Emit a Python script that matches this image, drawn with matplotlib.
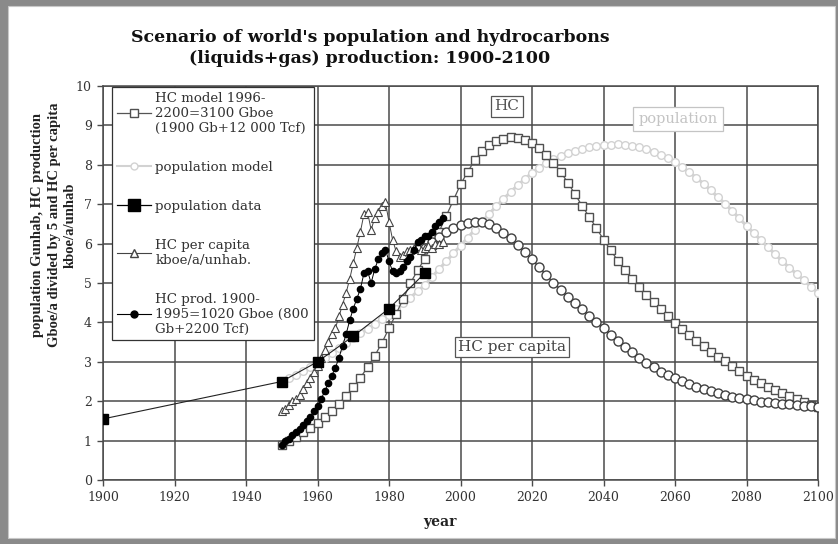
import matplotlib.pyplot as plt
from matplotlib.patches import Rectangle
from matplotlib.lines import Line2D

# ---- data ----
model_years = list(range(1950, 2101, 2))

hc_model = [0.90, 1.00, 1.10, 1.21, 1.33, 1.45, 1.60, 1.76, 1.94, 2.14,
            2.35, 2.60, 2.86, 3.15, 3.48, 3.85, 4.22, 4.60, 5.00, 5.32,
            5.62, 5.96, 6.30, 6.70, 7.10, 7.50, 7.82, 8.12, 8.35, 8.50,
            8.60, 8.66, 8.70, 8.69, 8.63, 8.55, 8.42, 8.24, 8.05, 7.82,
            7.55, 7.26, 6.96, 6.68, 6.40, 6.10, 5.83, 5.57, 5.33, 5.11,
            4.90, 4.70, 4.51, 4.33, 4.15, 3.98, 3.83, 3.68, 3.53, 3.39,
            3.25, 3.13, 3.01, 2.89, 2.77, 2.65, 2.55, 2.45, 2.36, 2.28,
            2.20, 2.12, 2.05, 1.98, 1.91, 1.85]

pop_model = [2.50, 2.58, 2.67, 2.77, 2.87, 2.98, 3.10, 3.22, 3.34, 3.47,
             3.60, 3.72, 3.84, 3.96, 4.08, 4.20, 4.33, 4.48, 4.63, 4.79,
             4.95, 5.15, 5.35, 5.55, 5.75, 5.95, 6.15, 6.35, 6.55, 6.75,
             6.95, 7.13, 7.31, 7.48, 7.64, 7.80, 7.93, 8.05, 8.15, 8.23,
             8.30, 8.35, 8.40, 8.44, 8.47, 8.50, 8.51, 8.52, 8.51, 8.48,
             8.45, 8.40, 8.33, 8.24, 8.16, 8.06, 7.94, 7.81, 7.67, 7.52,
             7.35, 7.18, 7.01, 6.83, 6.64, 6.45, 6.27, 6.09, 5.91, 5.73,
             5.55, 5.39, 5.23, 5.07, 4.91, 4.75]

pc_model_years = list(range(1990, 2101, 2))
pc_model = [5.90, 6.05, 6.18, 6.30, 6.40, 6.47, 6.52, 6.55, 6.54, 6.49,
            6.40, 6.28, 6.13, 5.96, 5.79, 5.60, 5.40, 5.20, 5.01, 4.83,
            4.65, 4.49, 4.33, 4.17, 4.01, 3.85, 3.69, 3.53, 3.38, 3.24,
            3.10, 2.97, 2.86, 2.75, 2.66, 2.58, 2.51, 2.44, 2.37, 2.31,
            2.25, 2.20, 2.15, 2.11, 2.08, 2.05, 2.02, 1.99, 1.97, 1.95,
            1.94, 1.92, 1.91, 1.89, 1.87, 1.86]

pop_data_years = [1900, 1950, 1960, 1970, 1980, 1990]
pop_data = [1.55, 2.50, 3.00, 3.65, 4.35, 5.25]

data_years = list(range(1950, 1996))
hc_per_capita = [1.75, 1.80, 1.90, 2.00, 2.05, 2.15, 2.30, 2.45, 2.60, 2.75,
                 2.90, 3.10, 3.30, 3.50, 3.70, 3.85, 4.15, 4.45, 4.75, 5.10,
                 5.50, 5.90, 6.30, 6.75, 6.80, 6.35, 6.65, 6.80, 6.95, 7.05,
                 6.55, 6.10, 5.80, 5.65, 5.70, 5.80, 5.85, 5.90, 5.95, 5.85,
                 5.90, 5.95, 5.90, 6.00, 6.00, 6.05]
hc_prod = [0.90, 0.98, 1.05, 1.15, 1.22, 1.30, 1.40, 1.50, 1.60, 1.75,
           1.87, 2.05, 2.25, 2.45, 2.65, 2.85, 3.10, 3.40, 3.70, 4.05,
           4.35, 4.60, 4.85, 5.25, 5.30, 5.00, 5.35, 5.60, 5.75, 5.85,
           5.55, 5.30, 5.25, 5.30, 5.40, 5.55, 5.65, 5.85, 6.05, 6.10,
           6.20, 6.20, 6.30, 6.45, 6.55, 6.65]

x_ticks = list(range(1900, 2101, 20))
y_ticks = list(range(0, 11))

title = "Scenario of world's population and hydrocarbons\n(liquids+gas) production: 1900-2100"
y_label = "population Gunhab, HC production\nGboe/a divided by 5 and HC per capita\nkboe/a/unhab"
legend_labels = ["HC model 1996-\n2200=3100 Gboe\n(1900 Gb+12 000 Tcf)",
                 "population model",
                 "population data",
                 "HC per capita\nkboe/a/unhab.",
                 "HC prod. 1900-\n1995=1020 Gboe (800\nGb+2200 Tcf)"]

serif = 'DejaVu Serif'
grid_col = '#4a4a4a'
text_col = '#333333'

fig = plt.figure(figsize=(8.38, 5.44), dpi=100)
fig.patch.set_facecolor('#8a8a8a')
fig.patches.append(Rectangle((8 / 838, 6 / 544), 827 / 838, 532 / 544,
                             transform=fig.transFigure, facecolor='white',
                             edgecolor='#c8c8c8', lw=0.8, zorder=-5))

ax = fig.add_axes([103 / 838, 1 - 480 / 544, 715 / 838, 394 / 544])
ax.set_facecolor('white')

# curves
ax.plot(model_years, pop_model, color='#d2d2d2', lw=2.2, marker='o', ms=5.5,
        mfc='white', mec='#d2d2d2', mew=1.0, zorder=3)
ax.plot(model_years, hc_model, color='#555555', lw=0.9, marker='s', ms=6,
        mfc='white', mec='#505050', mew=1.0, zorder=4)
ax.plot(pc_model_years, pc_model, color='#444444', lw=0.9, marker='o', ms=6.5,
        mfc='white', mec='#404040', mew=1.0, zorder=4)
ax.plot(data_years, hc_per_capita, color='#444444', lw=0.7, marker='^', ms=5.5,
        mfc='white', mec='#444444', mew=0.8, zorder=5)
ax.plot(data_years, hc_prod, color='black', lw=0.7, marker='o', ms=4.5,
        mfc='black', mec='black', zorder=6)
ax.plot(pop_data_years, pop_data, color='#222222', lw=0.8, marker='s', ms=7.5,
        mfc='black', mec='black', zorder=7)

ax.set_xlim(1900, 2100)
ax.set_ylim(0, 10)
ax.set_xticks(x_ticks)
ax.set_yticks(y_ticks)
ax.grid(True, color=grid_col, lw=1.1, zorder=1)
ax.set_axisbelow(True)
for s in ax.spines.values():
    s.set_color(grid_col)
    s.set_linewidth(1.1)
ax.tick_params(direction='out', length=4, width=1, color=grid_col,
               labelsize=9, labelcolor=text_col, pad=4)
for lab in ax.get_xticklabels() + ax.get_yticklabels():
    lab.set_family(serif)

# legend
handles = [
    Line2D([], [], color='#555555', lw=0.9, marker='s', ms=6, mfc='white', mec='#505050'),
    Line2D([], [], color='#d2d2d2', lw=1.5, marker='o', ms=5, mfc='white', mec='#d2d2d2'),
    Line2D([], [], color='black', lw=0.9, marker='s', ms=8, mfc='black', mec='black'),
    Line2D([], [], color='#444444', lw=0.8, marker='^', ms=5.5, mfc='white', mec='#444444'),
    Line2D([], [], color='black', lw=0.8, marker='o', ms=5, mfc='black', mec='black'),
]
leg = ax.legend(handles, legend_labels, loc='upper left',
                bbox_to_anchor=(9 / 715, 393 / 394), prop={'family': serif, 'size': 9.6},
                labelspacing=1.95, handlelength=2.6, handletextpad=0.3,
                borderpad=0.35, borderaxespad=0, fancybox=False, framealpha=1,
                edgecolor='#333333', labelcolor=text_col)
leg.get_frame().set_linewidth(0.9)
leg.set_zorder(10)

# boxed labels
ax.text(2013, 9.48, 'HC', ha='center', va='center', fontsize=11, family=serif,
        color='#555555', zorder=9,
        bbox=dict(boxstyle='square,pad=0.25', fc='white', ec='#555555', lw=0.9))
ax.text(2060.8, 9.16, 'population', ha='center', va='center', fontsize=10.5, family=serif,
        color='#c4c4c4', zorder=9,
        bbox=dict(boxstyle='square,pad=0.35', fc='white', ec='#c4c4c4', lw=0.9))
ax.text(2014.4, 3.38, 'HC per capita', ha='center', va='center', fontsize=11, family=serif,
        color='#444444', zorder=9,
        bbox=dict(boxstyle='square,pad=0.2', fc='white', ec='#555555', lw=0.9))

fig.text(370 / 838, 1 - 48 / 544, title, ha='center', va='center', fontsize=12.5,
         weight='bold', family=serif, linespacing=1.25, color='#111111')
fig.text(54 / 838, 1 - 225 / 544, y_label, rotation=90, ha='center', va='center',
         multialignment='center', fontsize=10.5, weight='bold',
         family='Liberation Serif', linespacing=1.35, color='#222222')
fig.text(440 / 838, 1 - 522 / 544, 'year', ha='center', va='center', fontsize=10,
         weight='bold', family=serif, color='#222222')

fig.savefig('out.png', dpi=100, facecolor=fig.get_facecolor())
